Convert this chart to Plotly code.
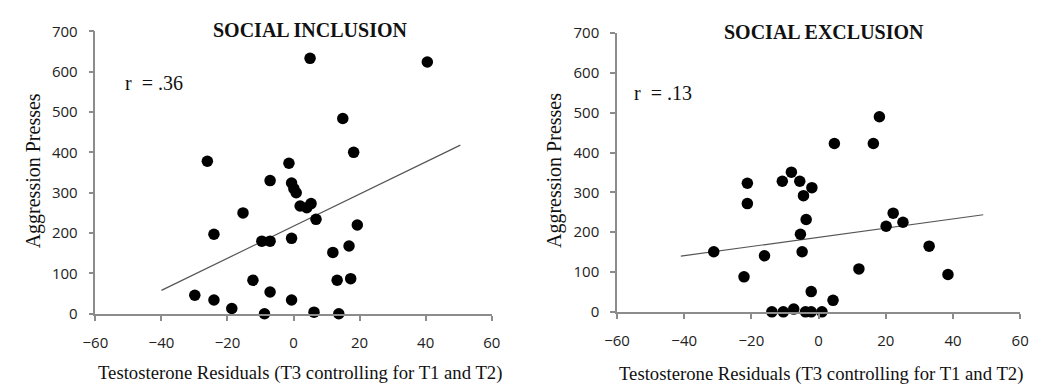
import plotly.graph_objects as go

# ---- data ----
incl_x = [5.0, 40.5, 14.9, 18.2, -26.1, -1.4, -7.1, -0.6, 0.1, 0.8, 2.0, 4.0, 5.3,
          6.8, -15.3, -24.1, -9.6, -7.1, -0.6, 19.3, 16.8, 11.9, -12.3, 13.2, 17.3,
          -29.9, -24.1, -18.7, -7.1, -0.6, -8.8, 6.2, 13.7]
incl_y = [633, 624, 484, 400, 378, 373, 330, 324, 310, 300, 267, 263, 273,
          234, 250, 197, 180, 180, 187, 220, 168, 152, 83, 83, 87,
          46, 34, 13, 54, 34, 0, 4, 0]
incl_fit_x = [-40, 50.5]
incl_fit_y = [58, 418]

excl_x = [18.1, 4.7, 16.3, -21.2, -10.8, -8.1, -5.6, -2.0, -4.5,
          -21.2, -3.7, -5.4, -31.2, -16.1, -4.9, -22.2, -2.2, 4.3,
          -13.9, -10.5, -7.4, -3.9, -2.2, 1.0, 12.0, 20.1, 22.2, 25.1, 32.9, 38.5]
excl_y = [490, 423, 423, 323, 328, 351, 328, 312, 292,
          272, 232, 195, 151, 141, 151, 88, 51, 29,
          0, 0, 7, 0, 0, 0, 108, 215, 248, 225, 165, 94]
excl_fit_x = [-41, 49]
excl_fit_y = [140, 244]

titles = ["SOCIAL INCLUSION", "SOCIAL EXCLUSION"]
r_labels = ["r\u00a0 = .36", "r\u00a0 = .13"]
x_title = "Testosterone Residuals (T3 controlling for T1 and T2)"
y_title = "Aggression Presses"
x_ticks = [-60, -40, -20, 0, 20, 40, 60]
y_ticks = [0, 100, 200, 300, 400, 500, 600, 700]

# the page body adds an 8px margin, so the figure is placed 8px in from the window corner
OFF = 8
W, H = 1038 - OFF, 391 - OFF


def fx(px):
    return (px - OFF) / W


def fy(py):
    return 1 - (py - OFF) / H


fig = go.Figure()

panels = [
    (incl_x, incl_y, incl_fit_x, incl_fit_y, "x", "y"),
    (excl_x, excl_y, excl_fit_x, excl_fit_y, "x2", "y2"),
]
for px, py, lx, ly, xa, ya in panels:
    fig.add_trace(go.Scatter(x=lx, y=ly, mode="lines", xaxis=xa, yaxis=ya,
                             line=dict(color="#555555", width=1.2),
                             showlegend=False, hoverinfo="skip"))
    fig.add_trace(go.Scatter(x=px, y=py, mode="markers", xaxis=xa, yaxis=ya,
                             marker=dict(color="black", size=11.5),
                             showlegend=False, cliponaxis=False))

tickfont = dict(family="Open Sans, Liberation Sans, sans-serif", size=15, color="#222")
common_x = dict(range=[-60, 60], tickvals=x_ticks, ticks="outside", ticklen=5,
                tickcolor="#8c8c8c", tickwidth=1.5, showline=True, linecolor="#8c8c8c",
                linewidth=1.5, showgrid=False, zeroline=False, tickfont=tickfont,
                ticklabelstandoff=9)
common_y = dict(range=[0, 700], tickvals=y_ticks, ticks="outside", ticklen=5,
                tickcolor="#8c8c8c", tickwidth=1.5, showline=True, linecolor="#8c8c8c",
                linewidth=1.5, showgrid=False, zeroline=False, tickfont=tickfont,
                ticklabelstandoff=8)

fig.update_layout(
    width=W, height=H,
    margin=dict(l=0, r=0, t=0, b=0),
    paper_bgcolor="white", plot_bgcolor="white",
    xaxis=dict(domain=[fx(84), fx(489)], anchor="y", **common_x),
    yaxis=dict(domain=[fy(319), fy(21)], anchor="x", **common_y),
    xaxis2=dict(domain=[fx(617), fx(1029)], anchor="y2", **common_x),
    yaxis2=dict(domain=[fy(317), fy(23)], anchor="x2", **common_y),
)

serif = "Liberation Serif, Times New Roman, serif"
ann = []
for cx, cy, t in [(304, 20, titles[0]), (829, 21.5, titles[1])]:
    ann.append(dict(text="<b>%s</b>" % t, x=fx(cx), y=fy(cy), xref="paper", yref="paper",
                    showarrow=False, xanchor="center", yanchor="middle",
                    font=dict(family=serif, size=20, color="#111")))
for lx, ly, t in [(112, 75, r_labels[0]), (632, 86.5, r_labels[1])]:
    ann.append(dict(text=t, x=fx(lx), y=fy(ly), xref="paper", yref="paper",
                    showarrow=False, xanchor="left", yanchor="middle",
                    font=dict(family=serif, size=20, color="#111")))
for cx, cy in [(293.5, 381.5), (825.5, 382.5)]:
    ann.append(dict(text=x_title, x=fx(cx), y=fy(cy), xref="paper", yref="paper",
                    showarrow=False, xanchor="center", yanchor="middle",
                    font=dict(family=serif, size=18.7, color="#111")))
for cx in [21, 553]:
    ann.append(dict(text=y_title, x=fx(cx), y=fy(168), xref="paper", yref="paper",
                    showarrow=False, xanchor="center", yanchor="middle", textangle=-90,
                    font=dict(family=serif, size=20, color="#111")))
fig.update_layout(annotations=ann)

fig.write_html("out.html")
